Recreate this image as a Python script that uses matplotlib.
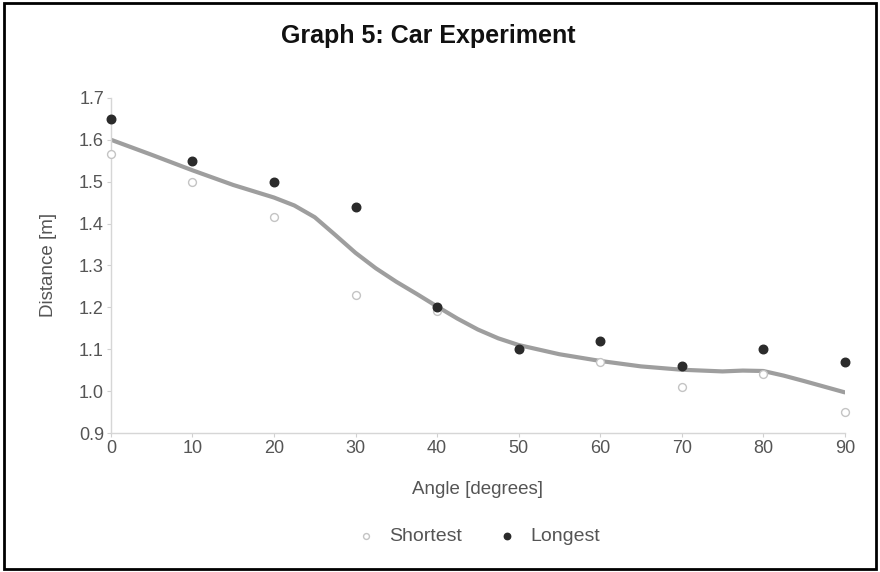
import matplotlib
matplotlib.use("Agg")
import matplotlib.pyplot as plt
from matplotlib.patches import Rectangle

plt.rcParams["font.family"] = ["Liberation Sans", "DejaVu Sans"]

angles = [0, 10, 20, 30, 40, 50, 60, 70, 80, 90]
shortest = [1.565, 1.50, 1.415, 1.23, 1.19, 1.10, 1.07, 1.01, 1.04, 0.95]
longest = [1.65, 1.55, 1.50, 1.44, 1.20, 1.10, 1.12, 1.06, 1.10, 1.07]

# smoothed trend line at close steps
trend_angles = [0, 5, 10, 15, 17.5, 20, 22.5, 25, 27.5, 30, 32.5, 35, 37.5, 40,
                42.5, 45, 47.5, 50, 55, 60, 65, 70, 75, 77.5, 80, 82.5, 85, 90]
trend_vals = [1.600, 1.564, 1.527, 1.492, 1.477, 1.462, 1.443, 1.415, 1.373, 1.330,
              1.293, 1.261, 1.232, 1.202, 1.173, 1.147, 1.126, 1.110, 1.088, 1.072,
              1.059, 1.051, 1.047, 1.049, 1.048, 1.037, 1.024, 0.997]

fig = plt.figure(figsize=(8.8, 5.72), dpi=100)
ax = fig.add_axes([0.126, 0.243, 0.834, 0.586])

ax.plot(trend_angles, trend_vals, color="#9e9e9e", lw=3.0, solid_capstyle="round",
        solid_joinstyle="round", zorder=2)
ax.scatter(angles, shortest, s=32, facecolor="white", edgecolor="#c4c4c4", lw=1.0,
           clip_on=False, zorder=3, label="Shortest")
ax.scatter(angles, longest, s=38, color="#2b2b2b", clip_on=False, zorder=4, label="Longest")

ax.set_xlim(0, 90)
ax.set_ylim(0.9, 1.7)
ax.set_xticks(angles)
ax.set_yticks([0.9, 1.0, 1.1, 1.2, 1.3, 1.4, 1.5, 1.6, 1.7])
ax.set_yticklabels(["0.9", "1.0", "1.1", "1.2", "1.3", "1.4", "1.5", "1.6", "1.7"])

for side in ["top", "right"]:
    ax.spines[side].set_visible(False)
for side in ["left", "bottom"]:
    ax.spines[side].set_color("#d6d6d6")
    ax.spines[side].set_linewidth(1.0)
ax.tick_params(colors="#d0d0d0", labelcolor="#555555", labelsize=13, length=3, pad=2)

ax.set_xlabel("Angle [degrees]", fontsize=13.5, color="#555555", labelpad=17)
ax.set_ylabel("Distance [m]", fontsize=13.5, color="#555555", labelpad=16)

fig.text(0.487, 0.937, "Graph 5: Car Experiment", ha="center", va="center",
         fontsize=18, fontweight="bold", color="#111111")

ax.legend(loc="upper center", bbox_to_anchor=(0.494, -0.23), ncol=2, frameon=False,
          fontsize=14, labelcolor="#555555", handletextpad=0.2, columnspacing=1.3,
          markerscale=0.75)

fig.patches.append(Rectangle((0.004, 0.005), 0.992, 0.99, transform=fig.transFigure,
                             fill=False, edgecolor="black", lw=2))

fig.savefig("out.png", dpi=100)
